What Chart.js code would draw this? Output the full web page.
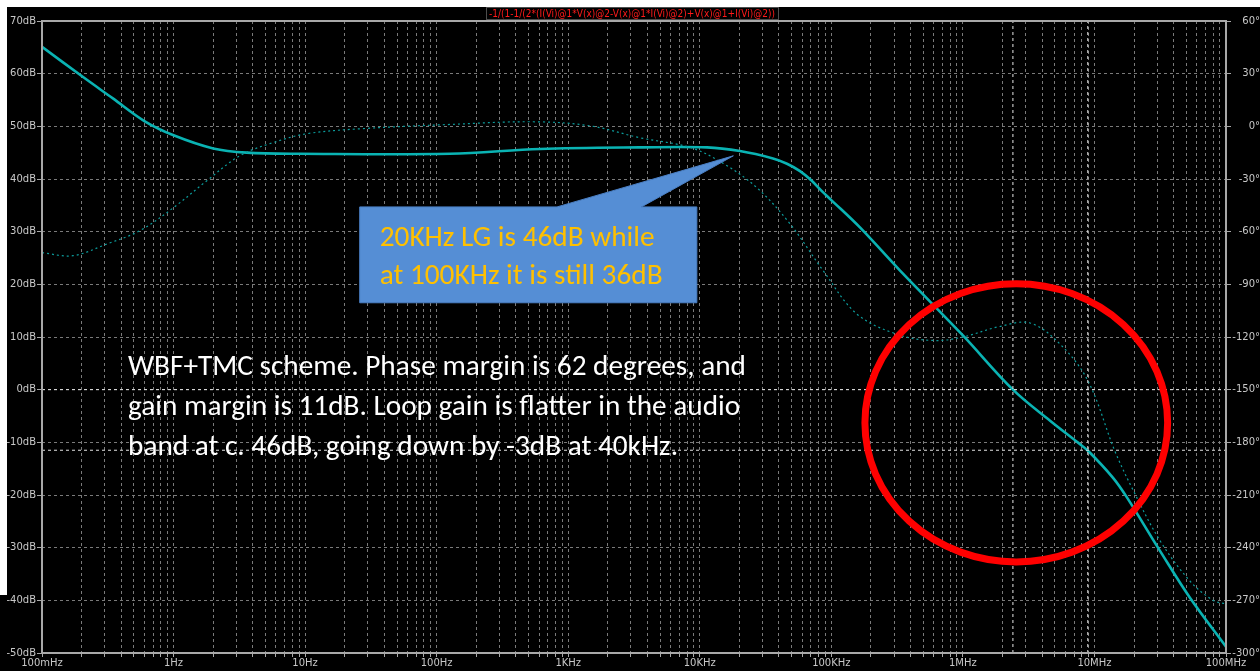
<!DOCTYPE html>
<html>
<head>
<meta charset="utf-8">
<script src="https://cdn.jsdelivr.net/npm/chart.js@4.4.1/dist/chart.umd.min.js"></script>
<style>
  html, body { margin: 0; padding: 0; background: #000; overflow: hidden; }
  canvas { display: block; }
</style>
</head>
<body>
<canvas id="bode" width="1260" height="671"></canvas>
<script>
// Loop gain magnitude (dB) versus frequency (Hz)
const gainFreqHz = [0.1, 0.204, 0.346, 0.6, 1.0, 2.0, 3.6, 9.1, 126, 610, 3500, 11350, 20200, 36000,
  46000, 57800, 70000, 86300, 1e5, 1.65e5, 3.33e5, 1e6, 2.4e6, 4.6e6, 7.36e6, 8.93e6, 1.38e7, 1.77e7,
  3.15e7, 5.32e7, 1e8];
const gainDb = [65.1, 59.4, 55.3, 51.0, 48.3, 45.8, 45.0, 44.8, 44.8, 45.7, 46.0, 46.0, 45.3, 43.9,
  42.9, 41.5, 39.8, 37.5, 36.0, 30.8, 22.6, 10.3, 0.0, -5.9, -9.9, -11.6, -16.7, -20.5,
  -30.6, -39.5, -48.8];

// Loop gain phase (degrees) versus frequency (Hz)
const phaseFreqHz = [0.1, 0.172, 0.312, 0.556, 1.0, 1.79, 3.2, 5.7, 10.3, 27.5, 120, 540, 1460, 3500,
  8400, 15000, 27200, 48500, 86300, 1.57e5, 3.33e5, 6.14e5, 1e6, 1.91e6, 3.24e6, 5.47e6, 8.93e6,
  1.43e7, 1.96e7, 3.15e7, 5.32e7, 7.96e7, 1e8];
const phaseDeg = [-72, -73.7, -67, -59.4, -46.3, -31, -16.7, -9.3, -4.2, -1.3, 1, 2.6, 0.3, -6.5,
  -12, -21, -35, -55.5, -82, -107, -119, -122, -120, -114, -112, -124, -145,
  -185, -207, -236, -259, -270, -272];

// Cursor positions: unity-gain crossover and gain-margin point
const cursorFreqHz = [2.4e6, 8.9e6];
const cursorGainDb = [0, -11.5];

// Frequency axis decades and their labels
const xDecades = [0.1, 1, 10, 100, 1e3, 1e4, 1e5, 1e6, 1e7, 1e8];
const xTickLabels = ['100mHz', '1Hz', '10Hz', '100Hz', '1KHz', '10KHz', '100KHz', '1MHz', '10MHz', '100MHz'];
const gainRangeDb = [-50, 70];
const phaseRangeDeg = [-300, 60];

// Texts
const traceExpression = '-1/(1-1/(2*(I(Vi)@1*V(x)@2-V(x)@1*I(Vi)@2)+V(x)@1+I(Vi)@2))';
const calloutLines = ['20KHz LG is 46dB while', 'at 100KHz it is still 36dB'];
const noteLines = [
  'WBF+TMC scheme. Phase margin is 62 degrees, and',
  'gain margin is 11dB. Loop gain is flatter in the audio',
  'band at c. 46dB, going down by -3dB at 40kHz.'
];

// Annotation anchors in data space
const calloutBoxHz = [26, 9500];
const calloutBoxDb = [34.7, 16.5];
const calloutStemHz = [822, 3600];
const calloutTip = { hz: 18000, db: 44.4 };
const noteAnchor = { hz: 0.451, db: 2.85 };
const ellipseHz = [1.8e5, 3.6e7];
const ellipseDb = [20.1, -32.7];

const xTickValues = [];
for (let i = 0; i < xDecades.length - 1; i++) {
  for (let m = 1; m <= 9; m++) xTickValues.push(m * xDecades[i]);
}
xTickValues.push(xDecades[xDecades.length - 1]);

const toPoints = (xs, ys) => xs.map((x, i) => ({ x, y: ys[i] }));

function fitFontSize(c, text, width, family, weight) {
  c.save();
  c.font = `${weight} 100px ${family}`;
  const w = c.measureText(text).width;
  c.restore();
  return 100 * width / w;
}

const AXIS_FONT = { family: 'DejaVu Sans', size: 10 };
const AXIS_TEXT = '#c8c8c8';
const GRID = '#7a7a7a';
const FRAME = '#a8a8a8';

const overlay = {
  id: 'overlay',
  beforeDraw(chart) {
    const c = chart.ctx;
    c.save();
    c.fillStyle = '#000';
    c.fillRect(0, 0, chart.width, chart.height);
    c.fillStyle = '#fff';
    c.fillRect(0, 0, chart.width, 7);
    c.fillRect(0, 0, 7, 595);
    c.restore();
  },
  afterDraw(chart) {
    const c = chart.ctx;
    const xs = chart.scales.x, ys = chart.scales.y;
    const a = chart.chartArea;
    c.save();

    // plot frame
    c.strokeStyle = FRAME;
    c.lineWidth = 2;
    c.setLineDash([]);
    c.strokeRect(a.left, a.top, a.right - a.left, a.bottom - a.top);

    // callout
    const L = xs.getPixelForValue(calloutBoxHz[0]);
    const R = xs.getPixelForValue(calloutBoxHz[1]);
    const T = ys.getPixelForValue(calloutBoxDb[0]);
    const B = ys.getPixelForValue(calloutBoxDb[1]);
    c.beginPath();
    c.moveTo(L, T);
    c.lineTo(xs.getPixelForValue(calloutStemHz[0]), T);
    c.lineTo(xs.getPixelForValue(calloutTip.hz), ys.getPixelForValue(calloutTip.db));
    c.lineTo(xs.getPixelForValue(calloutStemHz[1]), T);
    c.lineTo(R, T);
    c.lineTo(R, B);
    c.lineTo(L, B);
    c.closePath();
    c.fillStyle = '#558ed5';
    c.fill();
    c.strokeStyle = '#4a7fc4';
    c.lineWidth = 1;
    c.stroke();

    const calloutFamily = 'Carlito, Lato, "Open Sans", sans-serif';
    const cs = fitFontSize(c, calloutLines[0], 275, calloutFamily, 'normal');
    c.font = `normal ${cs}px ${calloutFamily}`;
    c.fillStyle = '#ffc000';
    c.textAlign = 'left';
    c.textBaseline = 'alphabetic';
    c.fillText(calloutLines[0], L + 20, T + 39);
    c.fillText(calloutLines[1], L + 20, T + 77);

    // note text
    const ns = fitFontSize(c, noteLines[0], 618, calloutFamily, 'normal');
    c.font = `normal ${ns}px ${calloutFamily}`;
    c.fillStyle = '#ffffff';
    const nx = xs.getPixelForValue(noteAnchor.hz);
    const ny = ys.getPixelForValue(noteAnchor.db);
    noteLines.forEach((t, i) => c.fillText(t, nx, ny + i * 40));

    // highlight ellipse
    const ex0 = xs.getPixelForValue(ellipseHz[0]), ex1 = xs.getPixelForValue(ellipseHz[1]);
    const ey0 = ys.getPixelForValue(ellipseDb[0]), ey1 = ys.getPixelForValue(ellipseDb[1]);
    c.beginPath();
    c.ellipse((ex0 + ex1) / 2, (ey0 + ey1) / 2, (ex1 - ex0) / 2, (ey1 - ey0) / 2, 0, 0, Math.PI * 2);
    c.strokeStyle = '#ff0000';
    c.lineWidth = 7;
    c.stroke();

    // trace expression, horizontally condensed into its label box
    const tFamily = '"DejaVu Sans", sans-serif';
    c.font = `normal 11px ${tFamily}`;
    const rawW = c.measureText(traceExpression).width;
    const boxW = 286;
    const tcx = 632, tcy = 14;
    c.fillStyle = '#000';
    c.fillRect(tcx - boxW / 2 - 3, 7, boxW + 6, 13);
    c.strokeStyle = '#9a9a9a';
    c.lineWidth = 1;
    c.setLineDash([1, 1]);
    c.strokeRect(tcx - boxW / 2 - 3 + 0.5, 7.5, boxW + 6, 12);
    c.setLineDash([]);
    c.fillStyle = '#ff1a1a';
    c.textAlign = 'center';
    c.textBaseline = 'middle';
    c.translate(tcx, tcy + 0.5);
    c.scale(boxW / rawW, 1);
    c.fillText(traceExpression, 0, 0);
    c.restore();
  }
};

const cursorStyle = {
  borderColor: '#e6e6e6', borderWidth: 1, borderDash: [3, 3],
  pointRadius: 0, fill: false, tension: 0
};

new Chart(document.getElementById('bode'), {
  type: 'line',
  data: {
    datasets: [
      {
        label: 'cursor f1', yAxisID: 'y', ...cursorStyle,
        data: [{ x: cursorFreqHz[0], y: gainRangeDb[0] }, { x: cursorFreqHz[0], y: gainRangeDb[1] }]
      },
      {
        label: 'cursor f2', yAxisID: 'y', ...cursorStyle,
        data: [{ x: cursorFreqHz[1], y: gainRangeDb[0] }, { x: cursorFreqHz[1], y: gainRangeDb[1] }]
      },
      {
        label: 'cursor g1', yAxisID: 'y', ...cursorStyle,
        data: [{ x: xDecades[0], y: cursorGainDb[0] }, { x: xDecades[xDecades.length - 1], y: cursorGainDb[0] }]
      },
      {
        label: 'cursor g2', yAxisID: 'y', ...cursorStyle,
        data: [{ x: xDecades[0], y: cursorGainDb[1] }, { x: xDecades[xDecades.length - 1], y: cursorGainDb[1] }]
      },
      {
        label: 'phase', yAxisID: 'y2',
        data: toPoints(phaseFreqHz, phaseDeg),
        borderColor: '#0c9c9c', borderWidth: 1.2, borderDash: [2, 3],
        pointRadius: 0, tension: 0.35, fill: false
      },
      {
        label: 'gain', yAxisID: 'y',
        data: toPoints(gainFreqHz, gainDb),
        borderColor: '#0ab3b3', borderWidth: 2.6,
        pointRadius: 0, tension: 0.35, fill: false
      }
    ]
  },
  options: {
    responsive: false,
    animation: false,
    events: [],
    layout: { padding: { top: 21, left: 0, right: 0, bottom: 0 } },
    plugins: { legend: { display: false }, tooltip: { enabled: false }, title: { display: false } },
    scales: {
      x: {
        type: 'logarithmic', position: 'bottom',
        min: xDecades[0], max: xDecades[xDecades.length - 1],
        afterBuildTicks: s => { s.ticks = xTickValues.map(v => ({ value: v })); },
        afterFit: s => { s.height = 18; },
        grid: { color: GRID, lineWidth: 1, tickColor: FRAME, tickLength: 4, tickWidth: 1, tickBorderDash: [] },
        border: { display: false, dash: [3, 3] },
        ticks: {
          autoSkip: false, maxRotation: 0, minRotation: 0, padding: 0,
          color: AXIS_TEXT, font: AXIS_FONT,
          callback: v => {
            const i = xDecades.findIndex(d => Math.abs(v / d - 1) < 1e-9);
            return i >= 0 ? xTickLabels[i] : '';
          }
        }
      },
      y: {
        type: 'linear', position: 'left',
        min: gainRangeDb[0], max: gainRangeDb[1],
        afterFit: s => { s.width = 42; },
        grid: { color: GRID, lineWidth: 1, tickColor: FRAME, tickLength: 5, tickWidth: 1, tickBorderDash: [] },
        border: { display: false, dash: [3, 3] },
        ticks: { stepSize: 10, padding: 1, color: AXIS_TEXT, font: AXIS_FONT, callback: v => v + 'dB' }
      },
      y2: {
        type: 'linear', position: 'right',
        min: phaseRangeDeg[0], max: phaseRangeDeg[1],
        afterFit: s => { s.width = 34; },
        grid: { drawOnChartArea: false, tickColor: FRAME, tickLength: 5, tickWidth: 1, tickBorderDash: [] },
        border: { display: false },
        ticks: { stepSize: 30, padding: -5, crossAlign: 'far', color: AXIS_TEXT, font: AXIS_FONT, callback: v => v + '°' }
      }
    }
  },
  plugins: [overlay]
});
</script>
</body>
</html>
